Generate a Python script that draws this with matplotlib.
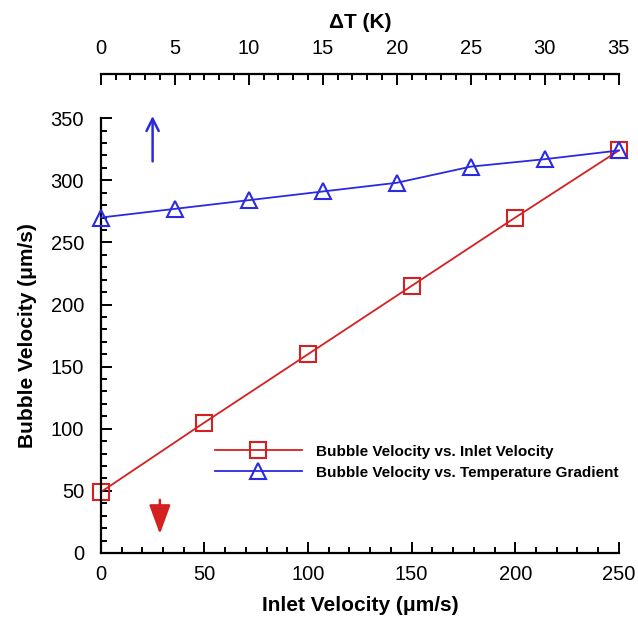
import matplotlib
matplotlib.use("Agg")
import matplotlib.pyplot as plt
from matplotlib.ticker import MultipleLocator

plt.rcParams['font.family'] = ['Liberation Sans', 'DejaVu Sans']

# bubble velocity vs inlet velocity (bottom axis)
inlet_vel = [0, 50, 100, 150, 200, 250]
bubble_vel_inlet = [49, 105, 160, 215, 270, 324]

# bubble velocity vs temperature difference (top axis)
delta_t = [0, 5, 10, 15, 20, 25, 30, 35]
bubble_vel_dt = [270, 277, 284, 291, 298, 311, 317, 324]

fig = plt.figure(figsize=(6.38, 6.22), dpi=100)
ax = fig.add_axes([0.158, 0.111, 0.812, 0.699])

red = '#d42020'
blue = '#2a2ae0'

l1, = ax.plot(inlet_vel, bubble_vel_inlet, color=red, lw=1.3, marker='s', ms=11,
              mfc='none', mec=red, mew=1.5, clip_on=False,
              label='Bubble Velocity vs. Inlet Velocity')

ax.set_xlim(0, 250)
ax.set_ylim(0, 350)
ax.xaxis.set_major_locator(MultipleLocator(50))
ax.xaxis.set_minor_locator(MultipleLocator(10))
ax.yaxis.set_major_locator(MultipleLocator(50))
ax.yaxis.set_minor_locator(MultipleLocator(10))
for s in ['top', 'right']:
    ax.spines[s].set_visible(False)
for s in ['left', 'bottom']:
    ax.spines[s].set_linewidth(1.6)
ax.tick_params(which='both', direction='in', width=1.4)
ax.tick_params(which='major', length=8, labelsize=14.5)
ax.tick_params(axis='y', which='major', pad=12)
ax.tick_params(axis='x', which='major', pad=9)
ax.tick_params(which='minor', length=4.5)

ax.set_xlabel('Inlet Velocity (\u03bcm/s)', fontsize=15, fontweight='bold', labelpad=8)
ax.set_ylabel('Bubble Velocity (\u03bcm/s)', fontsize=15, fontweight='bold', labelpad=10)

# top axis for the temperature difference
axt = ax.twiny()
axt.set_xlim(0, 35)
axt.spines['top'].set_position(('outward', 32))
axt.spines['top'].set_linewidth(1.6)
for s in ['left', 'right', 'bottom']:
    axt.spines[s].set_visible(False)
axt.xaxis.set_major_locator(MultipleLocator(5))
axt.xaxis.set_minor_locator(MultipleLocator(1))
axt.tick_params(which='both', direction='in', width=1.4)
axt.tick_params(which='major', length=8, labelsize=14.5, pad=11)
axt.tick_params(which='minor', length=4.5)
axt.set_xlabel('\u0394T (K)', fontsize=15, fontweight='bold', labelpad=8)

l2, = axt.plot(delta_t, bubble_vel_dt, color=blue, lw=1.3, marker='^', ms=12,
               mfc='none', mec=blue, mew=1.5, clip_on=False,
               label='Bubble Velocity vs. Temperature Gradient')

# direction arrows
ax.annotate('', xy=(25, 354), xytext=(25, 313), xycoords='data',
            arrowprops=dict(arrowstyle='->', color=blue, lw=1.8, mutation_scale=22),
            annotation_clip=False)
ax.annotate('', xy=(28.5, 13), xytext=(28.5, 45),
            arrowprops=dict(arrowstyle='-|>,head_length=0.6,head_width=0.22',
                            color=red, lw=1.8, mutation_scale=30))

ax.legend(handles=[l1, l2], loc='center left', bbox_to_anchor=(0.22, 0.209),
          frameon=False, borderaxespad=0, borderpad=0,
          handlelength=5.7, handletextpad=0.95, labelspacing=0.45,
          prop={'size': 11, 'weight': 'bold'})

fig.savefig('out.png', dpi=100)
